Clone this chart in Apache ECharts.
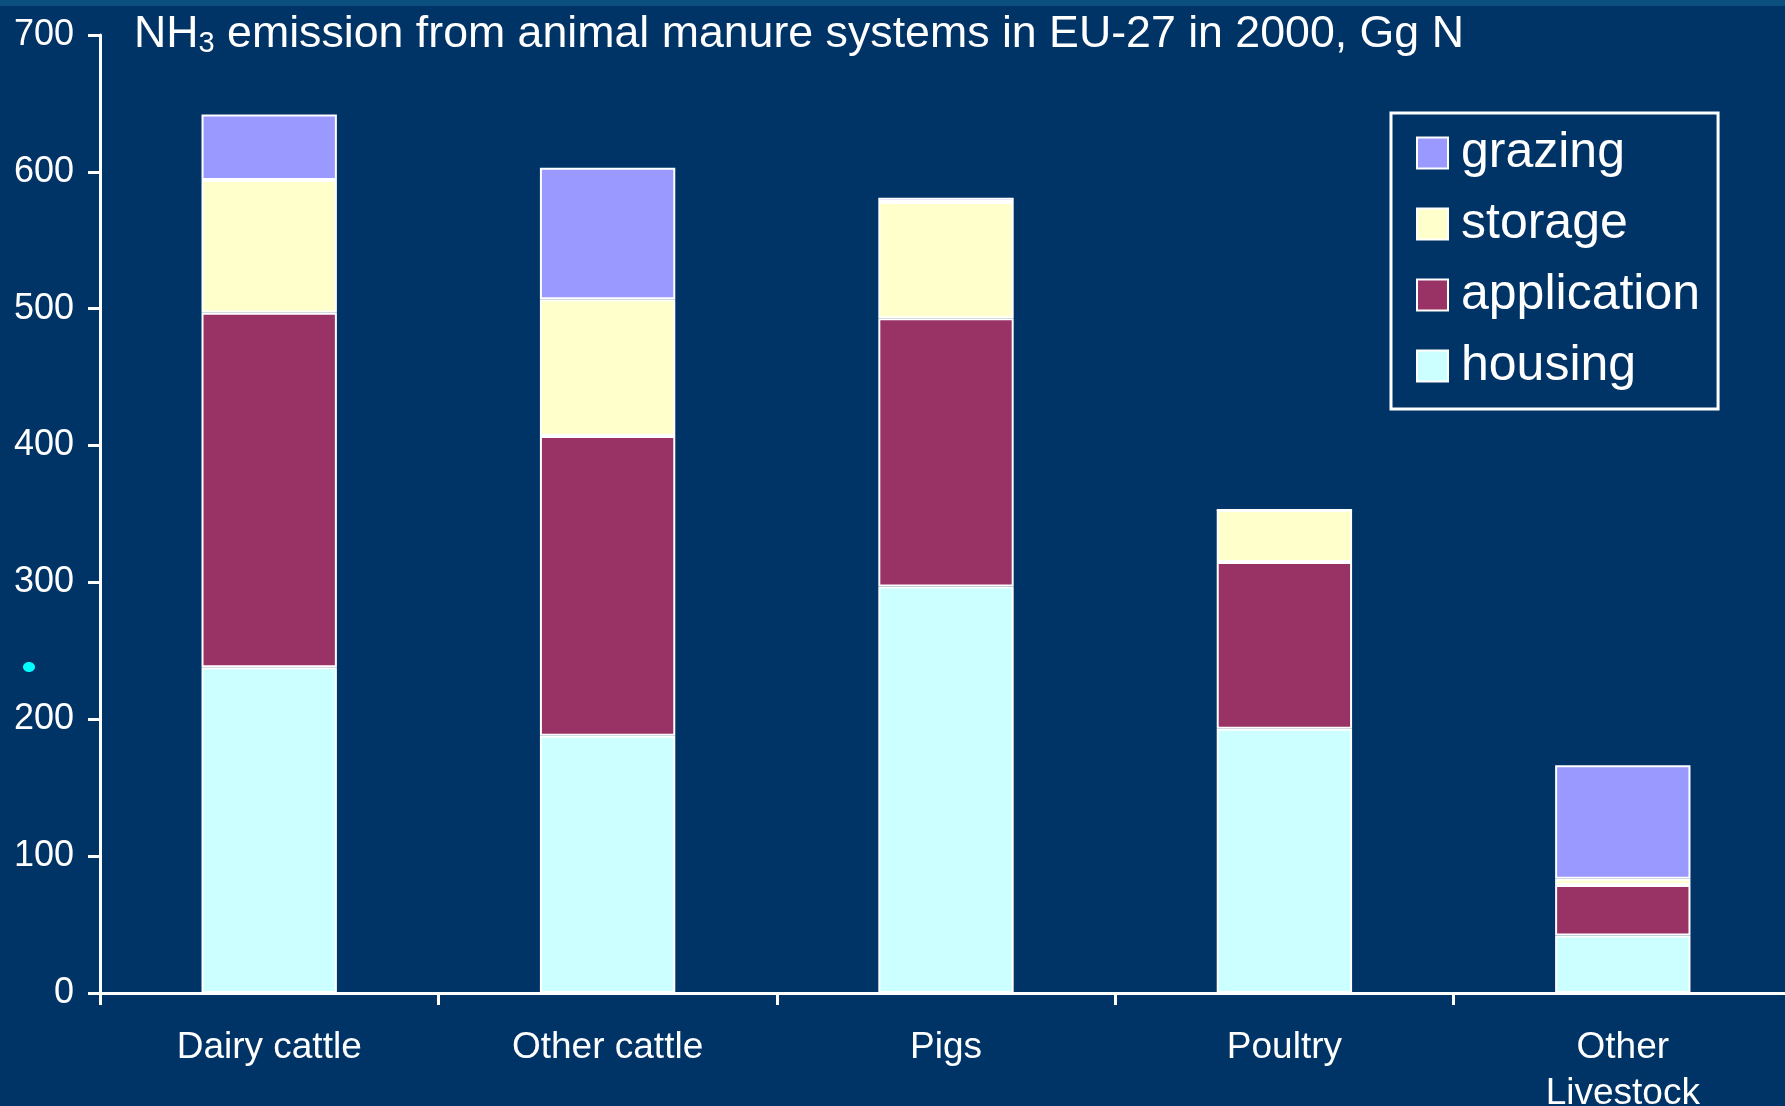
<!DOCTYPE html>
<html>
<head>
<meta charset="utf-8">
<script src="https://cdn.jsdelivr.net/npm/echarts@6/dist/echarts.min.js"></script>
<style>
html,body{margin:0;padding:0;background:#003366;}
#chart{width:1785px;height:1106px;}
</style>
</head>
<body>
<div id="chart"></div>
<script>
const categories = ['Dairy cattle', 'Other cattle', 'Pigs', 'Poultry', 'Other\nLivestock'];
const housing = [238, 188, 297, 193, 42];
const application = [259, 219, 196, 122, 37];
const storage = [97, 100, 85, 38, 4.5];
const grazing = [48, 96, 3, 0, 83];
const yTicks = [0, 100, 200, 300, 400, 500, 600, 700];

const FONT = '"Liberation Sans", Arial, sans-serif';
const chart = echarts.init(document.getElementById('chart'), null, {renderer: 'canvas'});

function mk(name, data, color) {
  return {
    name: name, type: 'bar', stack: 'total', data: data,
    barWidth: '40%',
    itemStyle: {color: color, borderColor: '#ffffff', borderWidth: 2},
    emphasis: {disabled: true}
  };
}

chart.setOption({
  backgroundColor: '#003366',
  animation: false,
  textStyle: {fontFamily: FONT},
  graphic: [
    {type: 'rect', left: 0, top: 0, shape: {width: 1785, height: 6}, style: {fill: '#0b4f7f'}},
    {type: 'ellipse', shape: {cx: 29, cy: 667, rx: 6, ry: 5}, style: {fill: '#00ffff'}},
    {type: 'text', left: 134, top: 11,
      style: {
        text: '{a|NH}{s|3}{a| emission from animal manure systems in EU-27 in 2000, Gg N}',
        rich: {
          a: {fontSize: 44.7, fontFamily: FONT, fill: '#ffffff', lineHeight: 50},
          s: {fontSize: 29, fontFamily: FONT, fill: '#ffffff', lineHeight: 50, padding: [18, 0, 0, 0]}
        }
      }
    }
  ],
  legend: {
    data: ['grazing', 'storage', 'application', 'housing'],
    orient: 'vertical',
    left: 1391, top: 113,
    padding: [15, 18, 18, 25],
    itemGap: 21,
    itemWidth: 31, itemHeight: 31,
    icon: 'rect',
    borderColor: '#ffffff', borderWidth: 3,
    textStyle: {color: '#ffffff', fontSize: 50, fontFamily: FONT, padding: [0, 0, 0, 8]}
  },
  grid: {left: 100, top: 35, bottom: 113, width: 1692, containLabel: false, outerBoundsMode: 'none'},
  xAxis: {
    type: 'category', data: categories,
    axisLine: {lineStyle: {color: '#ffffff', width: 3}},
    axisTick: {show: true, length: 12, lineStyle: {color: '#ffffff', width: 3}},
    axisLabel: {color: '#ffffff', fontSize: 37, fontFamily: FONT, margin: 32, lineHeight: 46, interval: 0}
  },
  yAxis: {
    type: 'value', min: 0, max: 700, interval: 100,
    axisLine: {show: true, lineStyle: {color: '#ffffff', width: 3}},
    axisTick: {show: true, length: 12, lineStyle: {color: '#ffffff', width: 3}},
    splitLine: {show: false},
    axisLabel: {color: '#ffffff', fontSize: 36, fontFamily: FONT, margin: 26,
      formatter: function (v) { return yTicks.indexOf(v) >= 0 ? String(v) : ''; }}
  },
  series: [
    mk('housing', housing, '#ccffff'),
    mk('application', application, '#993366'),
    mk('storage', storage, '#ffffcc'),
    mk('grazing', grazing, '#9999ff')
  ]
});
</script>
</body>
</html>
